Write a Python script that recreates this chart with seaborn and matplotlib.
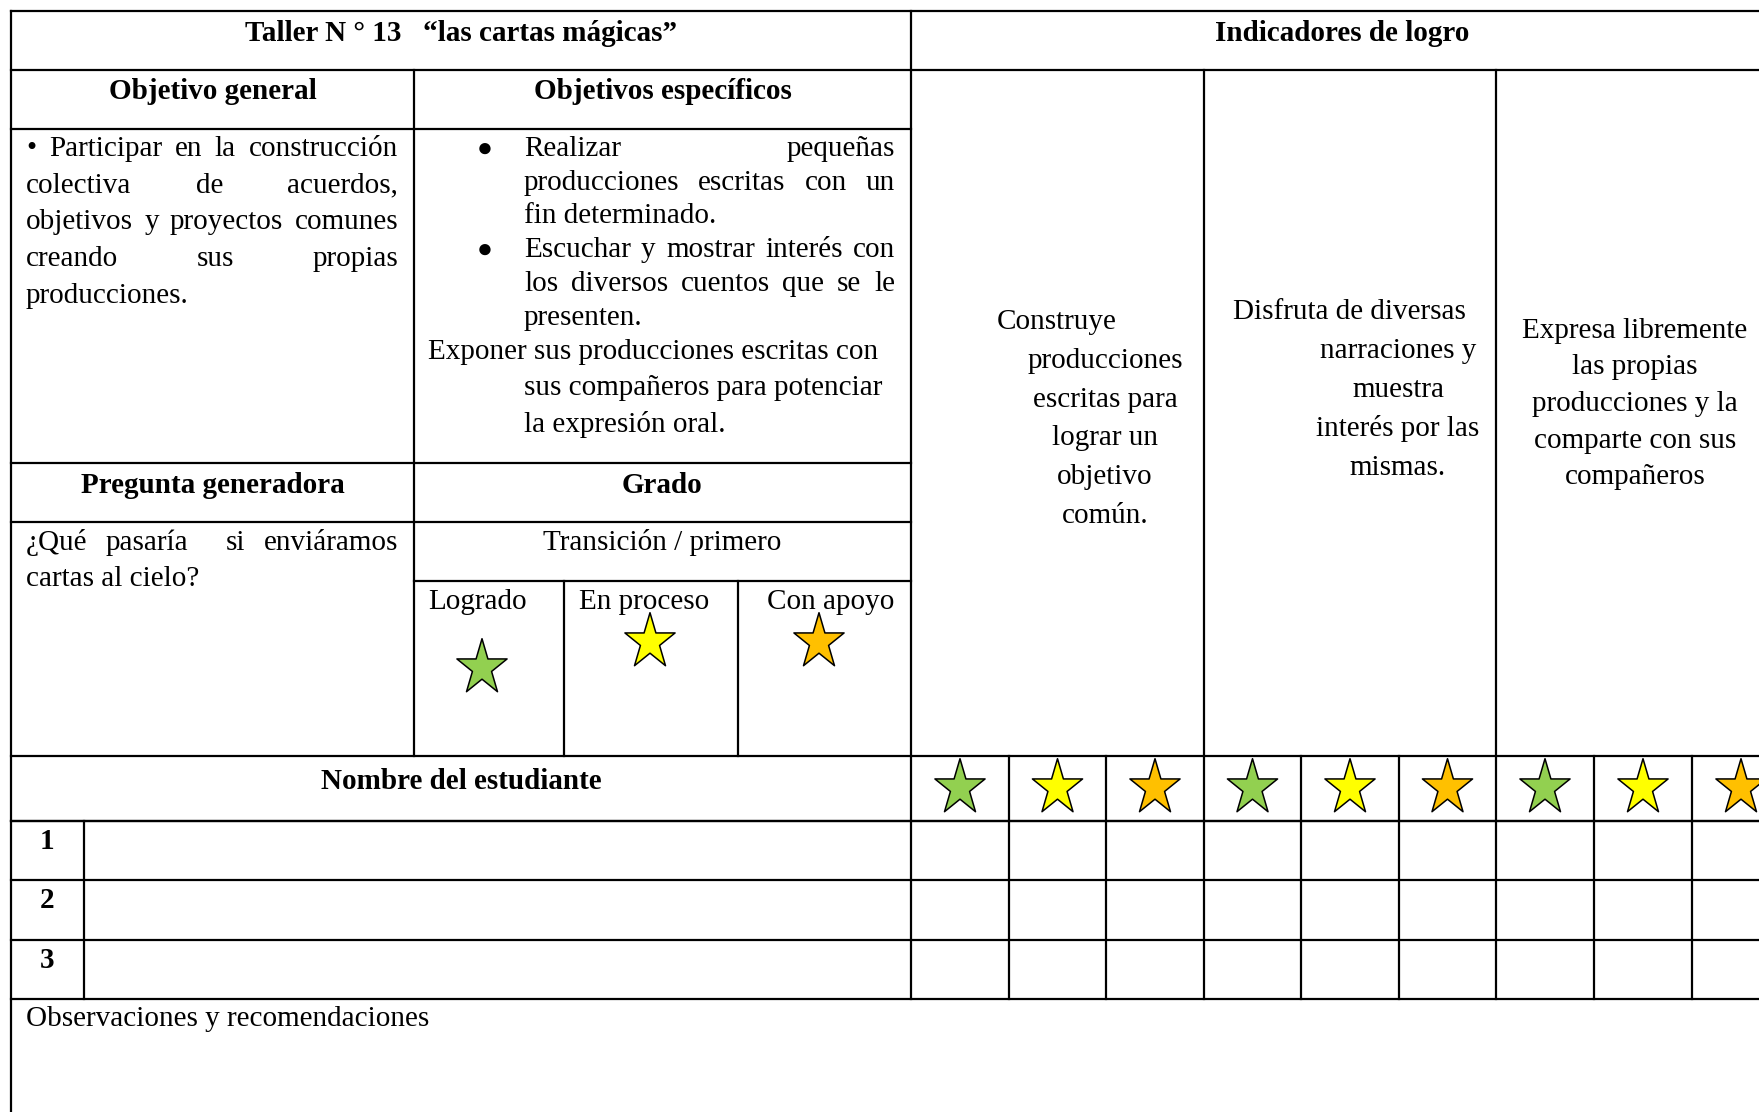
import matplotlib
matplotlib.use("Agg")
import matplotlib.pyplot as plt
import seaborn as sns
import pandas as pd
from matplotlib.path import Path

# ---- table content ----
title_left = "Taller N ° 13   “las cartas mágicas”"
title_right = "Indicadores de logro"
head_general = "Objetivo general"
head_especificos = "Objetivos específicos"
head_pregunta = "Pregunta generadora"
head_grado = "Grado"
head_nombre = "Nombre del estudiante"

objetivo_general = ["• Participar en la construcción",
                    "colectiva de acuerdos,",
                    "objetivos y proyectos comunes",
                    "creando sus propias",
                    "producciones."]
# (text, justified, indent)
objetivos_especificos = [("Realizar pequeñas", True, 1),
                         ("producciones escritas con un", True, 1),
                         ("fin determinado.", False, 1),
                         ("Escuchar y mostrar interés con", True, 1),
                         ("los diversos cuentos que se le", True, 1),
                         ("presenten.", False, 1),
                         ("Exponer sus producciones escritas con", False, 0),
                         ("sus compañeros para potenciar", False, 1),
                         ("la expresión oral.", False, 1)]
bullet_lines = [0, 3]
pregunta = ["¿Qué pasaría  si enviáramos", "cartas al cielo?"]
grado = "Transición / primero"
niveles = ["Logrado", "En proceso", "Con apoyo"]
nivel_colors = ["#92D050", "#FFFF00", "#FFC000"]
indicadores = [["Construye", "producciones", "escritas para", "lograr un", "objetivo", "común."],
               ["Disfruta de diversas", "narraciones y", "muestra", "interés por las", "mismas."],
               ["Expresa libremente", "las propias", "producciones y la", "comparte con sus", "compañeros"]]
estudiantes = ["1", "2", "3"]
observaciones = "Observaciones y recomendaciones"

# ---- layout (pixels) ----
W, H = 1759, 1112
xl, xnum, xmid, xlog, xpro, xind, xr = 11, 84, 414, 564, 738, 911, 1790
xcols = [911, 1009, 1106, 1204, 1301, 1399, 1496, 1594, 1692, 1790]
y0, y1, y2, y3, y4, y5, y6, y7 = 11, 70, 129, 463, 522, 581, 756, 821
yrows = [821, 880, 940, 999]
FS = 21

sns.set_theme(style="white")
plt.rcParams["font.family"] = ["Liberation Serif", "DejaVu Sans"]

fig = plt.figure(figsize=(W / 100, H / 100), dpi=100)
ax = fig.add_axes([0, 0, 1, 1])
ax.set_xlim(0, W)
ax.set_ylim(H, 0)
ax.axis("off")
renderer = fig.canvas.get_renderer()

lw = 1.6
def hline(y, a, b):
    ax.plot([a, b], [y, y], color="black", lw=lw, solid_capstyle="projecting")
def vline(x, a, b):
    ax.plot([x, x], [a, b], color="black", lw=lw, solid_capstyle="projecting")

# grid
for y in [y0, y1, y6, y7] + yrows:
    hline(y, xl, xr)
for y in [y2, y3, y4]:
    hline(y, xl, xind)
hline(y5, xmid, xind)
vline(xl, y0, H + 5)
vline(xind, y0, yrows[-1])
vline(xmid, y1, y6)
vline(xlog, y5, y6)
vline(xpro, y5, y6)
for x in xcols[3:-1:3]:
    vline(x, y1, yrows[-1])
for i, x in enumerate(xcols[1:-1]):
    if (i + 1) % 3:
        vline(x, y6, yrows[-1])
vline(xnum, y7, yrows[-1])


def txt(x, y, s, ha="left", bold=False, size=FS):
    return ax.text(x, y, s, ha=ha, va="baseline", fontsize=size,
                   fontweight="bold" if bold else "normal", color="black")


def justified(line, a, b, y):
    words = line.split(" ")
    arts = [txt(a, y, w) if w else None for w in words]
    widths = [t.get_window_extent(renderer).width if t else 0 for t in arts]
    gap = (b - a - sum(widths)) / (len(words) - 1)
    x = a
    for t, w in zip(arts, widths):
        if t:
            t.set_x(x)
        x += w + gap


# Word-like star (a bit narrower than a regular pentagram)
star = Path.unit_regular_star(5, 0.382)
star = Path(star.vertices * [0.9, 1.0], star.codes)

# headers
txt((xl + xind) / 2, 41, title_left, ha="center", bold=True)
txt(1342, 41, title_right, ha="center", bold=True)
txt((xl + xmid) / 2, 99, head_general, ha="center", bold=True)
txt((xmid + xind) / 2, 99, head_especificos, ha="center", bold=True)
txt((xl + xmid) / 2, 493, head_pregunta, ha="center", bold=True)
txt((xmid + xind) / 2, 493, head_grado, ha="center", bold=True)
txt((xl + xind) / 2, 789, head_nombre, ha="center", bold=True)

# objetivo general
for i, line in enumerate(objetivo_general):
    y = 156 + i * 36.7
    if i < len(objetivo_general) - 1:
        justified(line, 26, 398, y)
    else:
        txt(26, y, line)

# objetivos especificos
base_es = [156, 189.5, 223, 257, 291, 325, 359, 395, 432]
for i, (line, just, ind) in enumerate(objetivos_especificos):
    a = 524 if ind else 428
    if just:
        justified(line, a, 895, base_es[i])
    else:
        txt(a, base_es[i], line)
    if i in bullet_lines:
        txt(485, base_es[i] - 0.5, "●", ha="center", size=19)

# pregunta / grado
justified(pregunta[0], 26, 398, 550)
txt(26, 586, pregunta[1])
txt((xmid + xind) / 2, 550, grado, ha="center")
for x, s in zip([428, 579, 767], niveles):
    txt(x, 609, s)

pal = dict(zip(niveles, nivel_colors))

# legend stars
lvl = pd.DataFrame({"x": [482, 650, 819], "y": [668, 642, 642], "nivel": niveles})
sns.scatterplot(data=lvl, x="x", y="y", hue="nivel", palette=pal,
                marker=star, s=1780, edgecolor="black", linewidth=1.1, legend=False, ax=ax, zorder=5)

# indicator star row
centers = [(xcols[i] + xcols[i + 1]) / 2 for i in range(9)]
row = pd.DataFrame({"x": centers, "y": [788] * 9, "nivel": niveles * 3})
sns.scatterplot(data=row, x="x", y="y", hue="nivel", palette=pal,
                marker=star, s=1780, edgecolor="black", linewidth=1.1, legend=False, ax=ax, zorder=5)

# indicator descriptions
ind_first_left = [997, 1233, None]
ind_center = [1105, 1398, 1635]
ind_base = [(329, 38.8), (319, 39.0), (338, 36.5)]
for k, lines in enumerate(indicadores):
    b0, step = ind_base[k]
    for j, line in enumerate(lines):
        y = b0 + j * step
        if j == 0 and ind_first_left[k] is not None:
            txt(ind_first_left[k], y, line)
        else:
            txt(ind_center[k], y, line, ha="center")

# students
for i, s in enumerate(estudiantes):
    txt(47, yrows[i] + 28, s, ha="center", bold=True)

txt(26, 1026, observaciones)

fig.savefig("out.png", dpi=100)
